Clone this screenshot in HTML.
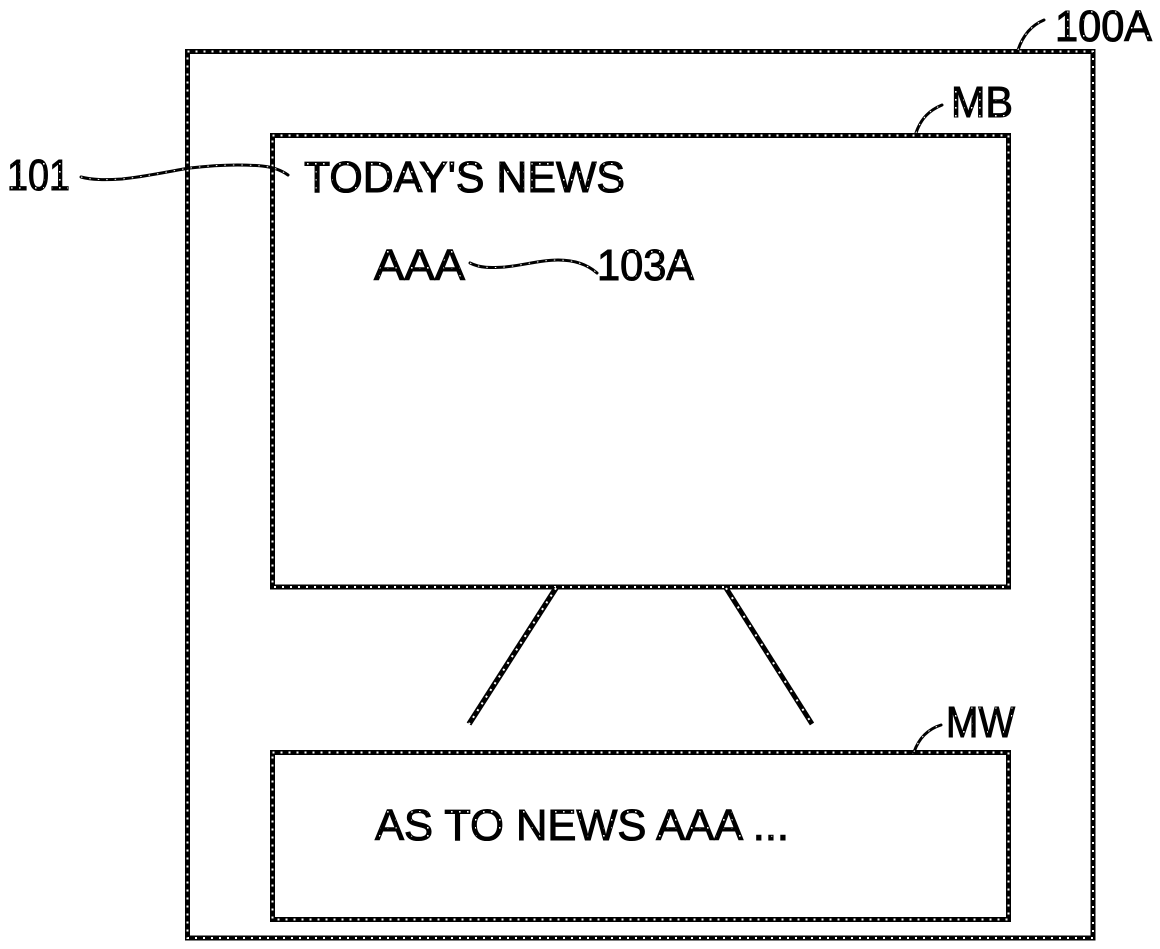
<!DOCTYPE html>
<html>
<head>
<meta charset="utf-8">
<style>
html,body{margin:0;padding:0;background:#fff;width:1160px;height:949px;overflow:hidden}
svg{display:block}
text{font-family:"Liberation Sans",sans-serif;font-size:44px;fill:url(#dots);stroke:#000;stroke-width:1.1px}
.box{fill:none;stroke:#000;stroke-width:5}
.dot{fill:none;stroke:#fff;stroke-width:2;stroke-dasharray:2 6}
.lead{fill:none;stroke:#000;stroke-width:3;stroke-linecap:round}
.leadw{fill:none;stroke:#fff;stroke-width:1;stroke-dasharray:1.5 7}
</style>
</head>
<body>
<svg width="1160" height="949" viewBox="0 0 1160 949" xmlns="http://www.w3.org/2000/svg">
<defs>
<pattern id="dots" width="8" height="8" patternUnits="userSpaceOnUse">
<rect width="8" height="8" fill="#000"/>
<rect x="3" y="3" width="1.6" height="1.6" fill="#fff"/>
</pattern>
</defs>
<rect width="1160" height="949" fill="#fff"/>

<rect class="box" x="187.5" y="51.5" width="905.5" height="886.5"/>
<rect class="dot" x="187.5" y="51.5" width="905.5" height="886.5"/>
<rect class="box" x="272.5" y="135.5" width="736" height="451.5"/>
<rect class="dot" x="272.5" y="135.5" width="736" height="451.5"/>
<rect class="box" x="272.5" y="752.5" width="736" height="167"/>
<rect class="dot" x="272.5" y="752.5" width="736" height="167"/>

<line x1="556" y1="588" x2="469" y2="724" stroke="#000" stroke-width="5.5"/>
<line x1="556" y1="588" x2="469" y2="724" stroke="#fff" stroke-width="2" stroke-dasharray="2 6"/>
<line x1="726" y1="588" x2="812" y2="724" stroke="#000" stroke-width="5"/>
<line x1="726" y1="588" x2="812" y2="724" stroke="#fff" stroke-width="2" stroke-dasharray="2 9"/>

<path class="lead" d="M81 177C92 180 105 180 122 179C150 176 170 171 190 168C215 165 240 164 262 166C272 167 281 170 288 175"/>
<path class="leadw" d="M81 177C92 180 105 180 122 179C150 176 170 171 190 168C215 165 240 164 262 166C272 167 281 170 288 175"/>
<path class="lead" d="M470 263C480 268 490 268 505 267C525 265 540 260 558 260C575 260 588 265 597 273"/>
<path class="leadw" d="M470 263C480 268 490 268 505 267C525 265 540 260 558 260C575 260 588 265 597 273"/>
<path class="lead" d="M1018 50C1023 35 1032 25 1044 20"/>
<path class="leadw" d="M1018 50C1023 35 1032 25 1044 20"/>
<path class="lead" d="M916 133C921 118 930 110 942 105"/>
<path class="leadw" d="M916 133C921 118 930 110 942 105"/>
<path class="lead" d="M914 752C919 738 928 729 941 725"/>
<path class="leadw" d="M914 752C919 738 928 729 941 725"/>

<text x="304" y="192" textLength="321" lengthAdjust="spacingAndGlyphs">TODAY'S NEWS</text>
<text x="374" y="280" textLength="91" lengthAdjust="spacingAndGlyphs">AAA</text>
<text x="597" y="280" textLength="97" lengthAdjust="spacingAndGlyphs">103A</text>
<text x="375" y="840" textLength="414" lengthAdjust="spacingAndGlyphs">AS TO NEWS AAA ...</text>
<text x="7" y="190" textLength="63" lengthAdjust="spacingAndGlyphs">101</text>
<text x="1055" y="41" textLength="97" lengthAdjust="spacingAndGlyphs">100A</text>
<text x="951" y="117" textLength="62" lengthAdjust="spacingAndGlyphs">MB</text>
<text x="946" y="737" textLength="69" lengthAdjust="spacingAndGlyphs">MW</text>
</svg>
</body>
</html>
